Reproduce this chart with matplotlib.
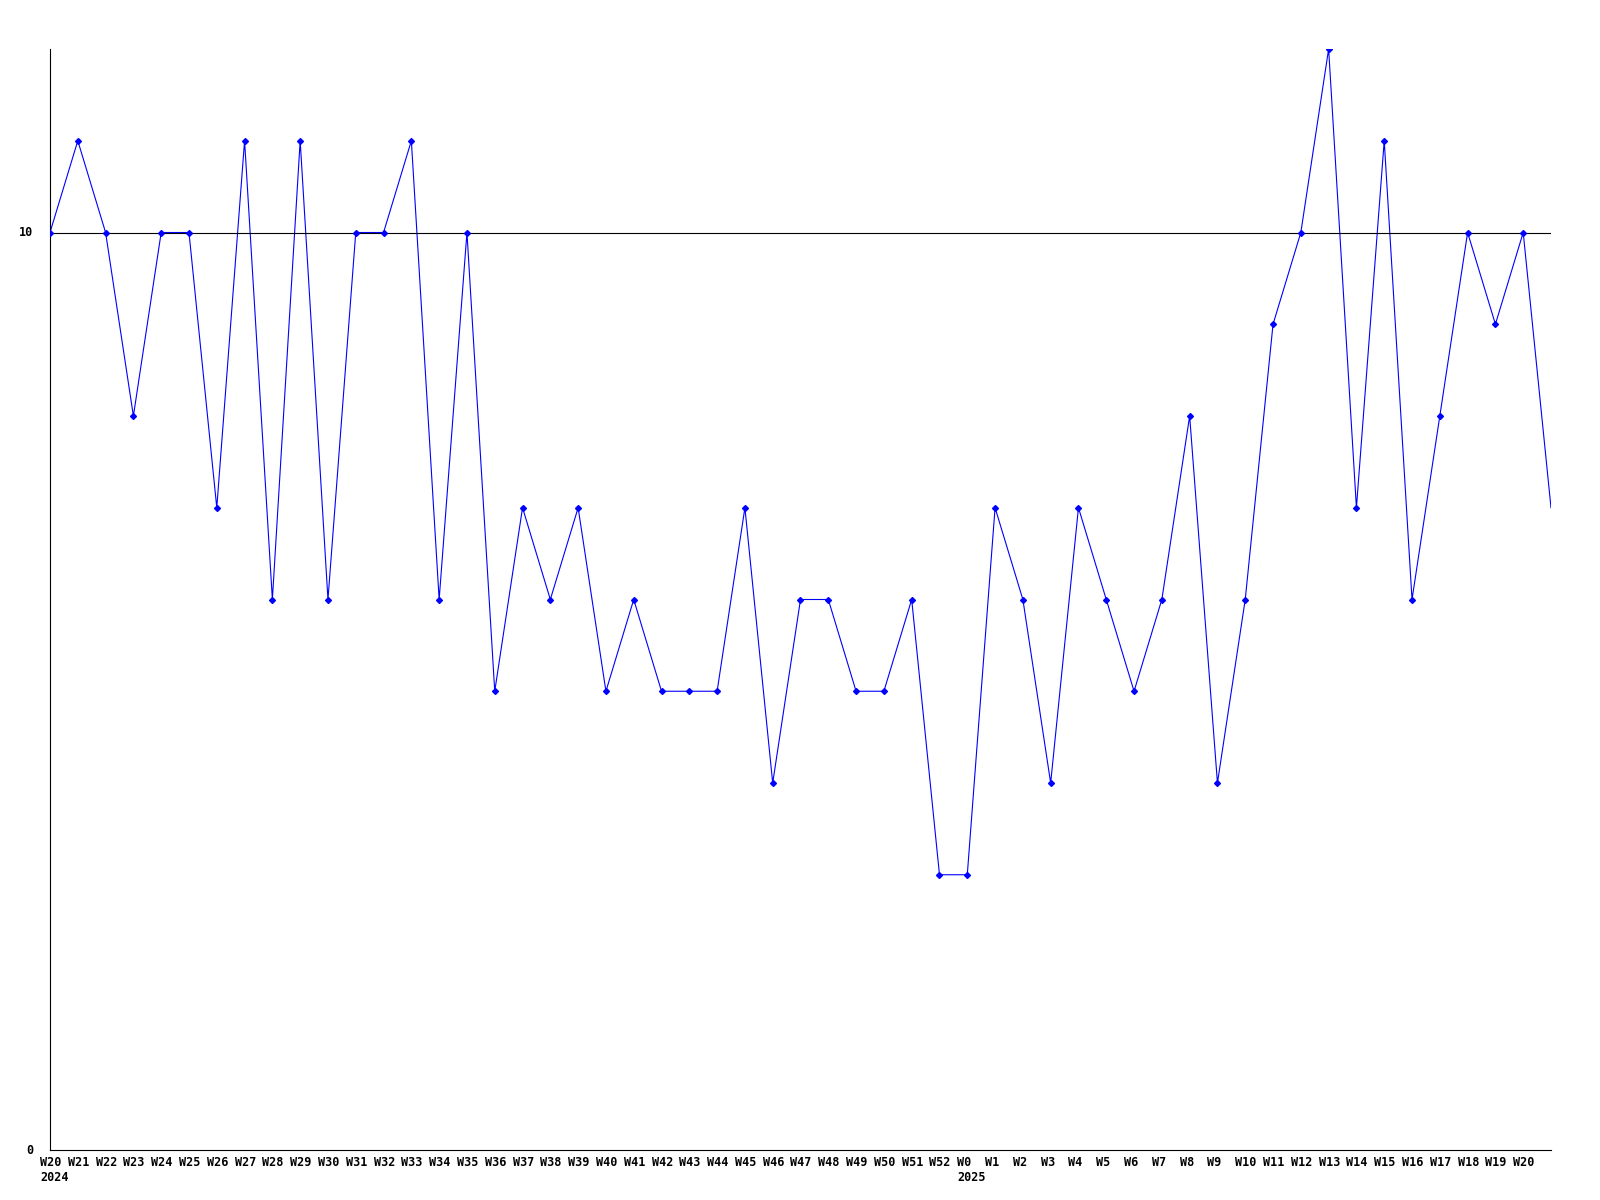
import matplotlib
matplotlib.use("Agg")
import matplotlib.pyplot as plt
import matplotlib.transforms as mtransforms

# weekly values, W20 2024 .. W20 2025, plus the running (partial) week
weeks_2024 = ["W%d" % w for w in range(20, 53)]
weeks_2025 = ["W%d" % w for w in range(0, 21)]
week_labels = weeks_2024 + weeks_2025

values = [10, 11, 10, 8, 10, 10, 7, 11, 6, 11, 6, 10, 10, 11, 6, 10,
          5, 7, 6, 7, 5, 6, 5, 5, 5, 7, 4, 6, 6, 5, 5, 6, 3,
          3, 7, 6, 4, 7, 6, 5, 6, 8, 4, 6, 9, 10, 12, 7, 11, 6, 8, 10, 9, 10]
partial_value = 7

year_labels = {0: "2024", len(weeks_2024): "2025"}
ref_level = 10

fig = plt.figure(figsize=(16, 12), dpi=100)
ax = fig.add_axes([50 / 1600, 1 - 1150 / 1200, 1501 / 1600, 1101 / 1200])

x = list(range(len(values)))
# line goes under the reference line, markers on top of it
ax.plot(x + [len(values)], values + [partial_value], color="blue", lw=0.8, zorder=1)
ax.axhline(ref_level, color="black", lw=0.8, zorder=2)
ax.plot(x, values, ls="none", marker="D", ms=3, color="blue", zorder=3)

ax.set_xlim(0, len(values))
ax.set_ylim(0, 12)

for s in ["top", "right"]:
    ax.spines[s].set_visible(False)
for s in ["left", "bottom"]:
    ax.spines[s].set_color("black")
    ax.spines[s].set_linewidth(0.8)

ax.set_xticks([])
ax.set_yticks([])

font = dict(family="DejaVu Sans Mono", weight="bold", size=8.5)
shift = mtransforms.offset_copy(ax.transData, fig=fig, x=-10, y=-6, units="dots")
for i, lab in enumerate(week_labels):
    ax.text(i, 0, lab, transform=shift, ha="left", va="top", **font)
shift2 = mtransforms.offset_copy(ax.transData, fig=fig, x=-10, y=-21, units="dots")
for i, lab in year_labels.items():
    ax.text(i, 0, lab, transform=shift2, ha="left", va="top", **font)

yshift = mtransforms.offset_copy(ax.transData, fig=fig, x=-17, y=0, units="dots")
for v in [0, ref_level]:
    ax.text(0, v, str(v), transform=yshift, ha="right", va="center", **font)

fig.savefig("out.png", dpi=100, facecolor="white")
